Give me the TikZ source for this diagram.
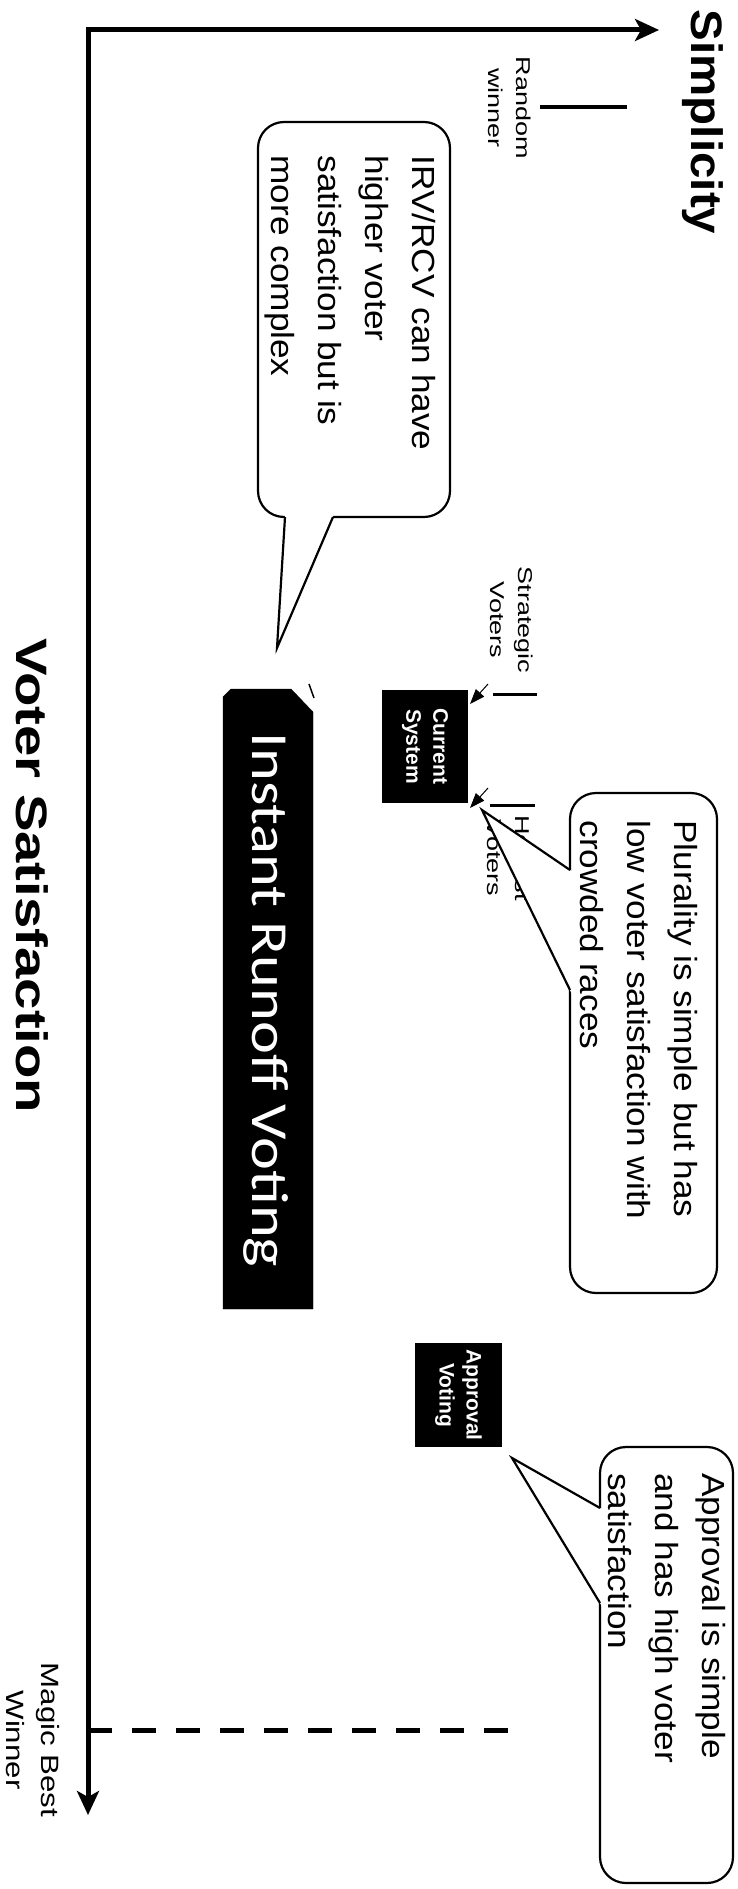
\documentclass[tikz,border=0pt]{standalone}
\usepackage{fontspec}
\setmainfont{Liberation Sans}
\newfontfamily\irvfont{Carlito}
\usetikzlibrary{arrows.meta}
\tikzset{
  axisline/.style={line width=5pt, line join=miter, {Stealth[length=24pt,width=22pt,inset=6pt]}-{Stealth[length=24pt,width=22pt,inset=6pt]}},
  bubble/.style={draw, fill=white, line width=2.2pt, rounded corners=26pt},
  tailline/.style={line width=2.2pt, line join=miter},
  bubtext/.style={rotate=-90, xscale=1.1, align=left, inner sep=0pt, font=\fontsize{32}{47}\selectfont},
  axislabel/.style={rotate=-90, inner sep=0pt, font=\bfseries\fontsize{44}{50}\selectfont},
  smalllabel/.style={rotate=-90, xscale=1.35, align=center, inner sep=0pt, font=\fontsize{20}{28}\selectfont},
  blackbox/.style={fill=black},
  boxtext/.style={rotate=-90, fill=black, text=white, align=center, inner sep=0pt, font=\bfseries\fontsize{21}{27}\selectfont},
  scaletick/.style={line width=3pt},
  pointer/.style={line width=1pt, -{Triangle[length=15pt,width=11pt]}},
  dashline/.style={line width=5pt, dash pattern=on 24pt off 20pt},
}
\begin{document}
\begin{tikzpicture}[x=1pt,y=-1pt]
\useasboundingbox (0,0) rectangle (737,1889);
% axes
\coordinate (origin) at (88,30);
\coordinate (simpEnd) at (659,30);
\coordinate (satEnd) at (88,1815);
\draw[axisline] (simpEnd) -- (origin) -- (satEnd);
\node[axislabel, xscale=1.08] (simp) at (703,122) {Simplicity};
\node[axislabel, xscale=1.28] (vsat) at (32,876) {Voter Satisfaction};

% random winner
\coordinate (r1) at (540,107);
\coordinate (r2) at (627,107);
\draw[scaletick, line width=4.5pt] (r1) -- (r2);
\node[smalllabel] (rand) at (510,108) {Random\\winner};

% IRV bubble
\draw[bubble] (258,122) rectangle (450,517);
\coordinate (irvtip) at (277,648);
\fill[white] (285.2,512) -- (irvtip) -- (334.9,512) -- cycle;
\draw[tailline] (285,517) -- (irvtip) -- (333,517);
\node[bubtext] (irvnote) at (350,303) {IRV/RCV can have\\higher voter\\satisfaction but is\\more complex};

% strategic / honest
\node[smalllabel] (strat) at (512,620) {Strategic\\Voters};
\coordinate (s1) at (493,694);
\coordinate (s2) at (537,694);
\draw[scaletick] (s1) -- (s2);
\node[smalllabel] (honest) at (508,858) {Honest\\Voters};
\coordinate (h1) at (490,805);
\coordinate (h2) at (535,805);
\draw[scaletick] (h1) -- (h2);

% current system
\node[boxtext, minimum width=113pt, minimum height=86pt] (cur) at (425,746.5) {Current\\System};
\coordinate (sa) at (488,684);
\coordinate (sb) at (470,704);
\coordinate (ha) at (488,788);
\coordinate (hb) at (470,808);
\draw[pointer] (sa) -- (sb);
\draw[pointer] (ha) -- (hb);

% IRV box
\draw[blackbox] (223,697) -- (231,689) -- (291,689) -- (313,712) -- (313,1309) -- (223,1309) -- cycle;
\node[rotate=-90, xscale=1.2, text=white, inner sep=0pt, font=\irvfont\fontsize{52}{60}\selectfont] (irv) at (266,1000) {Instant Runoff Voting};
\coordinate (st1) at (309,684);
\coordinate (st2) at (314,698);
\draw[line width=1.5pt] (st1) -- (st2);

% plurality bubble
\draw[bubble] (570,793) rectangle (717,1293);
\coordinate (plutip) at (482,810);
\fill[white] (574,872.7) -- (plutip) -- (574,998.2) -- cycle;
\draw[tailline] (570,870) -- (plutip) -- (570,990);
\node[bubtext] (plunote) at (639,1020) {Plurality is simple but has\\low voter satisfaction with\\crowded races};

% approval
\node[boxtext, minimum width=104pt, minimum height=87pt] (app) at (458.5,1395) {Approval\\Voting};
\draw[bubble] (600,1447) rectangle (733,1883);
\coordinate (apptip) at (512,1458);
\fill[white] (604,1510.3) -- (apptip) -- (604,1609.6) -- cycle;
\draw[tailline] (600,1508) -- (apptip) -- (600,1603);
\node[bubtext] (appnote) at (667,1618) {Approval is simple\\and has high voter\\satisfaction};

% magic best winner
\coordinate (dashStart) at (88,1730);
\coordinate (dashEnd) at (527,1730);
\draw[dashline] (dashStart) -- (dashEnd);
\node[smalllabel, xscale=1.25/1.35, font=\fontsize{25}{35}\selectfont] (magic) at (33,1740) {Magic Best\\Winner};
\end{tikzpicture}
\end{document}
